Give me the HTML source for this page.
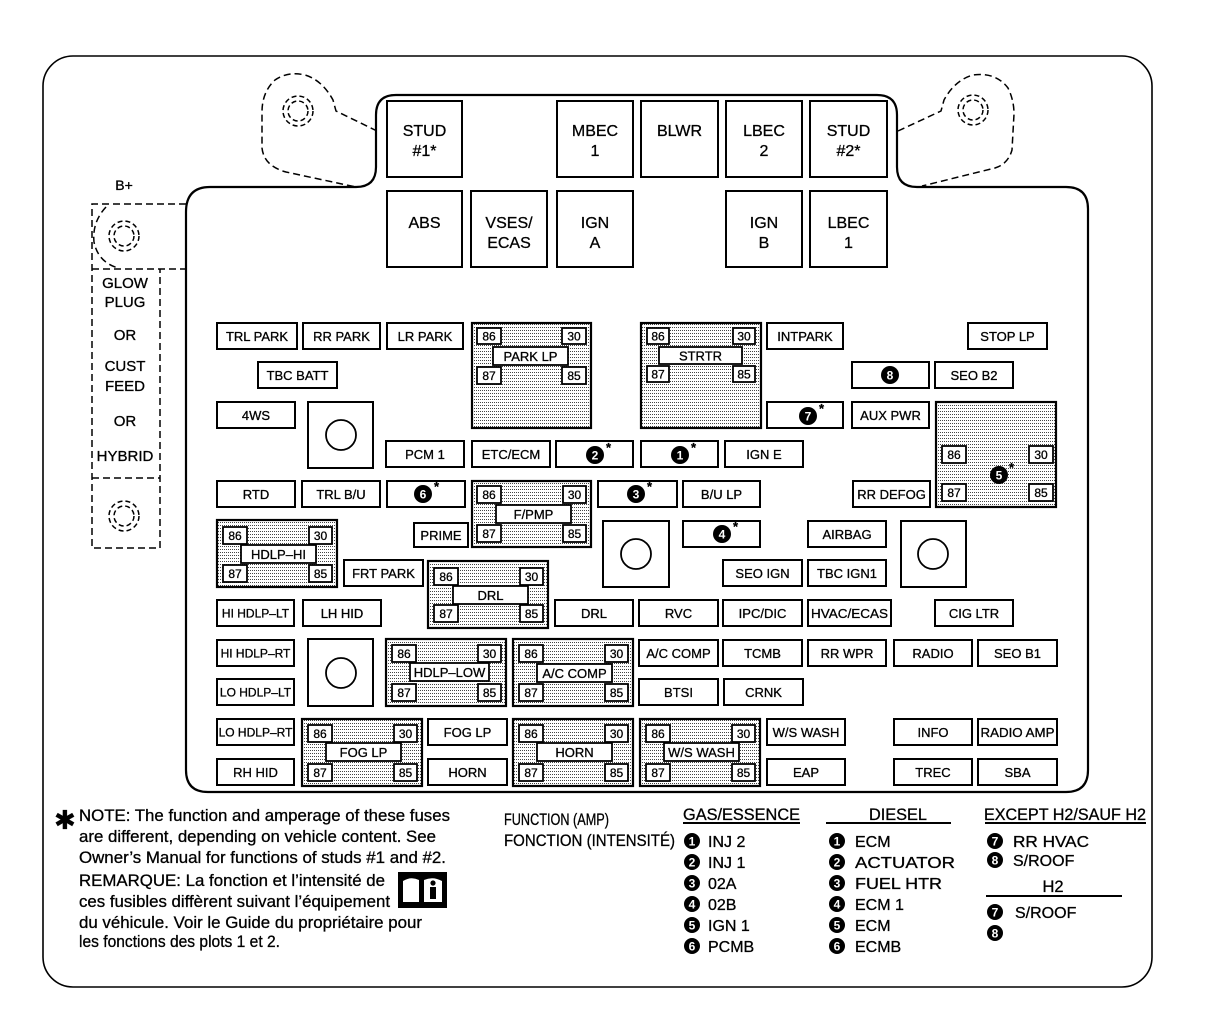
<!DOCTYPE html>
<html><head><meta charset="utf-8"><style>
html,body{margin:0;padding:0;background:#fff}
svg{display:block}
svg text{stroke:#000;stroke-width:0.3}
.f{fill:#fff;stroke:#000;stroke-width:2}
.r{fill:url(#dots);stroke:#000;stroke-width:2.2}
.tb{fill:#fff;stroke:#000;stroke-width:1.8}
.t{font-size:13px;text-anchor:middle}
.ts{font-size:12px;text-anchor:middle}
.tn{font-size:12px;text-anchor:middle}
.big{font-size:16px;text-anchor:middle}
.d{fill:none;stroke:#000;stroke-width:1.5;stroke-dasharray:7 4}
.cn{fill:#000}
svg text.cw{fill:#fff;stroke:none;font-size:12px;font-weight:bold;text-anchor:middle}
.ast{font-size:13px;font-weight:bold}
.lg{font-size:16.5px}
.li{font-size:16px}
</style></head><body>
<svg width="1229" height="1018" viewBox="0 0 1229 1018" font-family="'Liberation Sans', Arial, sans-serif">
<defs>
<pattern id="dots" width="2" height="3" patternUnits="userSpaceOnUse">
<rect width="2" height="3" fill="#fff"/><rect width="1" height="1" fill="#444"/>
</pattern>
</defs>

<!-- outer -->
<rect x="43" y="56" width="1109" height="931" rx="30" fill="#fff" stroke="#000" stroke-width="1.6"/>

<!-- tabs -->
<path class="d" d="M377,131 L336,111 L333,100 Q322,80 305,75 Q288,71 275,80 Q262,92 262,112 L262,148 Q264,166 286,172 L356,187"/>
<circle class="d" cx="298" cy="111" r="15" style="stroke-dasharray:5 3"/>
<circle class="d" cx="298" cy="111" r="10" style="stroke-dasharray:5 3"/>
<path class="d" d="M898,131 L941,111 L944,100 Q955,80 973,75 Q996,72 1008,88 Q1014,100 1014,114 L1012,150 Q1008,164 995,168 L922,186"/>
<circle class="d" cx="973" cy="110" r="15" style="stroke-dasharray:5 3"/>
<circle class="d" cx="973" cy="110" r="10" style="stroke-dasharray:5 3"/>

<!-- B+ area -->
<text x="124" y="190" font-size="14" text-anchor="middle">B+</text>
<path class="d" d="M186,204 L92,204 L92,548 L160,548 L160,269 M92,269 L186,269 M92,478 L160,478"/>
<path class="d" d="M106,207 Q92,222 94,242 Q98,262 118,268"/>
<circle class="d" cx="124" cy="236" r="15" style="stroke-dasharray:5 3"/>
<circle class="d" cx="124" cy="236" r="10" style="stroke-dasharray:5 3"/>
<circle class="d" cx="124" cy="516" r="15" style="stroke-dasharray:5 3"/>
<circle class="d" cx="124" cy="516" r="10" style="stroke-dasharray:5 3"/>
<g font-size="15" text-anchor="middle">
<text x="125" y="288">GLOW</text>
<text x="125" y="307">PLUG</text>
<text x="125" y="340">OR</text>
<text x="125" y="371">CUST</text>
<text x="125" y="391">FEED</text>
<text x="125" y="426">OR</text>
<text x="125" y="461">HYBRID</text>
</g>

<!-- inner -->
<path d="M186,212 Q186,187 210,187 L356,187 Q376,187 376,167 L376,115 Q376,95 396,95 L877,95 Q897,95 897,115 L897,167 Q897,187 917,187 L1066,187 Q1088,187 1088,209 L1088,770 Q1088,792 1066,792 L208,792 Q186,792 186,770 Z" fill="#fff" stroke="#000" stroke-width="2.2"/>

<!-- big fuses -->
<rect class="f" x="387" y="101" width="75" height="76"/><text class="big" x="424.5" y="136">STUD</text><text class="big" x="424.5" y="156">#1*</text>
<rect class="f" x="557" y="101" width="76" height="76"/><text class="big" x="595" y="136">MBEC</text><text class="big" x="595" y="156">1</text>
<rect class="f" x="641" y="101" width="77" height="76"/><text class="big" x="679.5" y="136">BLWR</text>
<rect class="f" x="726" y="101" width="76" height="76"/><text class="big" x="764" y="136">LBEC</text><text class="big" x="764" y="156">2</text>
<rect class="f" x="810" y="101" width="77" height="76"/><text class="big" x="848.5" y="136">STUD</text><text class="big" x="848.5" y="156">#2*</text>

<rect class="f" x="387" y="191" width="75" height="76"/><text class="big" x="424.5" y="228">ABS</text>
<rect class="f" x="471" y="191" width="76" height="76"/><text class="big" x="509" y="228">VSES/</text><text class="big" x="509" y="248">ECAS</text>
<rect class="f" x="557" y="191" width="76" height="76"/><text class="big" x="595" y="228">IGN</text><text class="big" x="595" y="248">A</text>
<rect class="f" x="726" y="191" width="76" height="76"/><text class="big" x="764" y="228">IGN</text><text class="big" x="764" y="248">B</text>
<rect class="f" x="810" y="191" width="77" height="76"/><text class="big" x="848.5" y="228">LBEC</text><text class="big" x="848.5" y="248">1</text>

<!-- big squares -->
<rect class="f" x="308" y="402" width="65" height="66"/><circle cx="341" cy="435" r="15" fill="none" stroke="#000" stroke-width="1.8"/>
<rect class="f" x="603" y="521" width="66" height="66"/><circle cx="636" cy="554" r="15" fill="none" stroke="#000" stroke-width="1.8"/>
<rect class="f" x="901" y="521" width="65" height="66"/><circle cx="933" cy="554" r="15" fill="none" stroke="#000" stroke-width="1.8"/>
<rect class="f" x="308" y="639" width="65" height="67"/><circle cx="341" cy="673" r="15" fill="none" stroke="#000" stroke-width="1.8"/>

<!-- small fuses -->
<g>
<rect class="f" x="217" y="323" width="80" height="26"/><text class="t" x="257" y="341">TRL PARK</text>
<rect class="f" x="303" y="323" width="77" height="26"/><text class="t" x="341.5" y="341">RR PARK</text>
<rect class="f" x="387" y="323" width="76" height="26"/><text class="t" x="425" y="341">LR PARK</text>
<rect class="f" x="767" y="323" width="76" height="26"/><text class="t" x="805" y="341">INTPARK</text>
<rect class="f" x="968" y="323" width="79" height="26"/><text class="t" x="1007.5" y="341">STOP LP</text>

<rect class="f" x="258" y="362" width="79" height="26"/><text class="t" x="297.5" y="380">TBC BATT</text>
<rect class="f" x="852" y="362" width="77" height="26"/>
<rect class="f" x="935" y="362" width="78" height="26"/><text class="t" x="974" y="380">SEO B2</text>

<rect class="f" x="217" y="402" width="78" height="26"/><text class="t" x="256" y="420">4WS</text>
<rect class="f" x="767" y="402" width="76" height="26"/>
<rect class="f" x="852" y="402" width="77" height="26"/><text class="t" x="890.5" y="420">AUX PWR</text>

<rect class="f" x="386" y="441" width="78" height="26"/><text class="t" x="425" y="459">PCM 1</text>
<rect class="f" x="472" y="441" width="78" height="26"/><text class="t" x="511" y="459">ETC/ECM</text>
<rect class="f" x="556" y="441" width="77" height="26"/>
<rect class="f" x="641" y="441" width="77" height="26"/>
<rect class="f" x="725" y="441" width="78" height="26"/><text class="t" x="764" y="459">IGN E</text>

<rect class="f" x="217" y="481" width="78" height="26"/><text class="t" x="256" y="499">RTD</text>
<rect class="f" x="302" y="481" width="78" height="26"/><text class="t" x="341" y="499">TRL B/U</text>
<rect class="f" x="387" y="481" width="78" height="26"/>
<rect class="f" x="598" y="481" width="79" height="26"/>
<rect class="f" x="683" y="481" width="77" height="26"/><text class="t" x="721.5" y="499">B/U LP</text>
<rect class="f" x="853" y="481" width="77" height="26"/><text class="t" x="891.5" y="499">RR DEFOG</text>

<rect class="f" x="414" y="523" width="54" height="24"/><text class="t" x="441" y="540">PRIME</text>
<rect class="f" x="683" y="521" width="77" height="26"/>
<rect class="f" x="808" y="521" width="78" height="26"/><text class="t" x="847" y="539">AIRBAG</text>

<rect class="f" x="344" y="560" width="79" height="26"/><text class="t" x="383.5" y="578">FRT PARK</text>
<rect class="f" x="723" y="560" width="79" height="26"/><text class="t" x="762.5" y="578">SEO IGN</text>
<rect class="f" x="808" y="560" width="78" height="26"/><text class="t" x="847" y="578">TBC IGN1</text>

<rect class="f" x="217" y="600" width="77" height="26"/><text class="ts" x="255.5" y="617.5">HI HDLP–LT</text>
<rect class="f" x="303" y="600" width="78" height="26"/><text class="t" x="342" y="618">LH HID</text>
<rect class="f" x="555" y="600" width="78" height="26"/><text class="t" x="594" y="618">DRL</text>
<rect class="f" x="639" y="600" width="79" height="26"/><text class="t" x="678.5" y="618">RVC</text>
<rect class="f" x="723" y="600" width="79" height="26"/><text class="t" x="762.5" y="618">IPC/DIC</text>
<rect class="f" x="808" y="600" width="83" height="26"/><text class="t" x="849.5" y="618" textLength="77" lengthAdjust="spacingAndGlyphs">HVAC/ECAS</text>
<rect class="f" x="935" y="600" width="78" height="26"/><text class="t" x="974" y="618">CIG LTR</text>

<rect class="f" x="217" y="640" width="77" height="26"/><text class="ts" x="255.5" y="657.5">HI HDLP–RT</text>
<rect class="f" x="639" y="640" width="79" height="26"/><text class="t" x="678.5" y="658">A/C COMP</text>
<rect class="f" x="723" y="640" width="79" height="26"/><text class="t" x="762.5" y="658">TCMB</text>
<rect class="f" x="808" y="640" width="78" height="26"/><text class="t" x="847" y="658">RR WPR</text>
<rect class="f" x="894" y="640" width="78" height="26"/><text class="t" x="933" y="658">RADIO</text>
<rect class="f" x="978" y="640" width="79" height="26"/><text class="t" x="1017.5" y="658">SEO B1</text>

<rect class="f" x="217" y="679" width="77" height="26"/><text class="ts" x="255.5" y="696.5">LO HDLP–LT</text>
<rect class="f" x="639" y="679" width="79" height="26"/><text class="t" x="678.5" y="697">BTSI</text>
<rect class="f" x="724" y="679" width="79" height="26"/><text class="t" x="763.5" y="697">CRNK</text>

<rect class="f" x="217" y="719" width="77" height="26"/><text class="ts" x="255.5" y="736.5">LO HDLP–RT</text>
<rect class="f" x="428" y="719" width="79" height="26"/><text class="t" x="467.5" y="737">FOG LP</text>
<rect class="f" x="767" y="719" width="78" height="26"/><text class="t" x="806" y="737">W/S WASH</text>
<rect class="f" x="894" y="719" width="78" height="26"/><text class="t" x="933" y="737">INFO</text>
<rect class="f" x="978" y="719" width="79" height="26"/><text class="t" x="1017.5" y="737" textLength="74" lengthAdjust="spacingAndGlyphs">RADIO AMP</text>

<rect class="f" x="217" y="759" width="77" height="26"/><text class="t" x="255.5" y="777">RH HID</text>
<rect class="f" x="428" y="759" width="79" height="26"/><text class="t" x="467.5" y="777">HORN</text>
<rect class="f" x="767" y="759" width="78" height="26"/><text class="t" x="806" y="777">EAP</text>
<rect class="f" x="894" y="759" width="78" height="26"/><text class="t" x="933" y="777">TREC</text>
<rect class="f" x="978" y="759" width="79" height="26"/><text class="t" x="1017.5" y="777">SBA</text>
</g>

<!-- circled numbers in fuses -->
<g>
<circle class="cn" cx="890" cy="375" r="9"/><text class="cw" x="890" y="379.5">8</text>
<circle class="cn" cx="808" cy="416" r="9"/><text class="cw" x="808" y="420.5">7</text><text class="ast" x="819" y="413">*</text>
<circle class="cn" cx="595" cy="455" r="9"/><text class="cw" x="595" y="459.5">2</text><text class="ast" x="606" y="452">*</text>
<circle class="cn" cx="680" cy="455" r="9"/><text class="cw" x="680" y="459.5">1</text><text class="ast" x="691" y="452">*</text>
<circle class="cn" cx="423" cy="494" r="9"/><text class="cw" x="423" y="498.5">6</text><text class="ast" x="434" y="491">*</text>
<circle class="cn" cx="636" cy="494" r="9"/><text class="cw" x="636" y="498.5">3</text><text class="ast" x="647" y="491">*</text>
<circle class="cn" cx="722" cy="534" r="9"/><text class="cw" x="722" y="538.5">4</text><text class="ast" x="733" y="531">*</text>
</g>

<!-- relays -->
<g>
<rect class="r" x="472" y="323" width="119" height="105"/>
<rect class="tb" x="477" y="328" width="24" height="16"/><text class="tn" x="489" y="340.5">86</text>
<rect class="tb" x="562" y="328" width="24" height="16"/><text class="tn" x="574" y="340.5">30</text>
<rect class="tb" x="493" y="347" width="75" height="18"/><text class="t" x="530.5" y="361">PARK LP</text>
<rect class="tb" x="477" y="367" width="24" height="17"/><text class="tn" x="489" y="380">87</text>
<rect class="tb" x="562" y="367" width="24" height="17"/><text class="tn" x="574" y="380">85</text>

<rect class="r" x="641" y="323" width="120" height="105"/>
<rect class="tb" x="647" y="328" width="22" height="16"/><text class="tn" x="658" y="340.5">86</text>
<rect class="tb" x="733" y="328" width="22" height="16"/><text class="tn" x="744" y="340.5">30</text>
<rect class="tb" x="659" y="347" width="83" height="17"/><text class="t" x="700.5" y="360.5">STRTR</text>
<rect class="tb" x="647" y="366" width="22" height="16"/><text class="tn" x="658" y="378.5">87</text>
<rect class="tb" x="733" y="366" width="22" height="16"/><text class="tn" x="744" y="378.5">85</text>

<rect class="r" x="936" y="402" width="120" height="105"/>
<rect class="tb" x="942" y="446" width="24" height="17"/><text class="tn" x="954" y="459">86</text>
<rect class="tb" x="1029" y="446" width="24" height="17"/><text class="tn" x="1041" y="459">30</text>
<rect class="tb" x="942" y="484" width="24" height="17"/><text class="tn" x="954" y="497">87</text>
<rect class="tb" x="1029" y="484" width="24" height="17"/><text class="tn" x="1041" y="497">85</text>
<circle class="cn" cx="999" cy="475" r="9"/><text class="cw" x="999" y="479.5">5</text><text class="ast" x="1009" y="472">*</text>

<rect class="r" x="472" y="481" width="119" height="66"/>
<rect class="tb" x="477" y="486" width="24" height="17"/><text class="tn" x="489" y="499">86</text>
<rect class="tb" x="563" y="486" width="23" height="17"/><text class="tn" x="574.5" y="499">30</text>
<rect class="tb" x="496" y="505" width="75" height="18"/><text class="t" x="533.5" y="519">F/PMP</text>
<rect class="tb" x="477" y="525" width="24" height="17"/><text class="tn" x="489" y="538">87</text>
<rect class="tb" x="563" y="525" width="23" height="17"/><text class="tn" x="574.5" y="538">85</text>

<rect class="r" x="217" y="520" width="120" height="67"/>
<rect class="tb" x="223" y="527" width="24" height="17"/><text class="tn" x="235" y="540">86</text>
<rect class="tb" x="309" y="527" width="23" height="17"/><text class="tn" x="320.5" y="540">30</text>
<rect class="tb" x="241" y="545" width="75" height="18"/><text class="t" x="278.5" y="559">HDLP–HI</text>
<rect class="tb" x="223" y="565" width="24" height="17"/><text class="tn" x="235" y="578">87</text>
<rect class="tb" x="309" y="565" width="23" height="17"/><text class="tn" x="320.5" y="578">85</text>

<rect class="r" x="428" y="561" width="120" height="67"/>
<rect class="tb" x="434" y="568" width="24" height="17"/><text class="tn" x="446" y="581">86</text>
<rect class="tb" x="520" y="568" width="23" height="17"/><text class="tn" x="531.5" y="581">30</text>
<rect class="tb" x="453" y="586" width="75" height="18"/><text class="t" x="490.5" y="600">DRL</text>
<rect class="tb" x="434" y="605" width="24" height="17"/><text class="tn" x="446" y="618">87</text>
<rect class="tb" x="520" y="605" width="23" height="17"/><text class="tn" x="531.5" y="618">85</text>

<rect class="r" x="386" y="639" width="120" height="67"/>
<rect class="tb" x="392" y="645" width="24" height="17"/><text class="tn" x="404" y="658">86</text>
<rect class="tb" x="478" y="645" width="23" height="17"/><text class="tn" x="489.5" y="658">30</text>
<rect class="tb" x="410" y="663" width="79" height="18"/><text class="t" x="449.5" y="677">HDLP–LOW</text>
<rect class="tb" x="392" y="684" width="24" height="17"/><text class="tn" x="404" y="697">87</text>
<rect class="tb" x="478" y="684" width="23" height="17"/><text class="tn" x="489.5" y="697">85</text>

<rect class="r" x="513" y="639" width="120" height="67"/>
<rect class="tb" x="519" y="645" width="24" height="17"/><text class="tn" x="531" y="658">86</text>
<rect class="tb" x="605" y="645" width="23" height="17"/><text class="tn" x="616.5" y="658">30</text>
<rect class="tb" x="537" y="664" width="75" height="18"/><text class="t" x="574.5" y="678">A/C COMP</text>
<rect class="tb" x="519" y="684" width="24" height="17"/><text class="tn" x="531" y="697">87</text>
<rect class="tb" x="605" y="684" width="23" height="17"/><text class="tn" x="616.5" y="697">85</text>

<rect class="r" x="302" y="719" width="120" height="67"/>
<rect class="tb" x="308" y="725" width="24" height="17"/><text class="tn" x="320" y="738">86</text>
<rect class="tb" x="394" y="725" width="23" height="17"/><text class="tn" x="405.5" y="738">30</text>
<rect class="tb" x="326" y="743" width="75" height="18"/><text class="t" x="363.5" y="757">FOG LP</text>
<rect class="tb" x="308" y="764" width="24" height="17"/><text class="tn" x="320" y="777">87</text>
<rect class="tb" x="394" y="764" width="23" height="17"/><text class="tn" x="405.5" y="777">85</text>

<rect class="r" x="513" y="719" width="120" height="67"/>
<rect class="tb" x="519" y="725" width="24" height="17"/><text class="tn" x="531" y="738">86</text>
<rect class="tb" x="605" y="725" width="23" height="17"/><text class="tn" x="616.5" y="738">30</text>
<rect class="tb" x="537" y="743" width="75" height="18"/><text class="t" x="574.5" y="757">HORN</text>
<rect class="tb" x="519" y="764" width="24" height="17"/><text class="tn" x="531" y="777">87</text>
<rect class="tb" x="605" y="764" width="23" height="17"/><text class="tn" x="616.5" y="777">85</text>

<rect class="r" x="640" y="719" width="120" height="67"/>
<rect class="tb" x="646" y="725" width="24" height="17"/><text class="tn" x="658" y="738">86</text>
<rect class="tb" x="732" y="725" width="23" height="17"/><text class="tn" x="743.5" y="738">30</text>
<rect class="tb" x="664" y="743" width="75" height="18"/><text class="t" x="701.5" y="757">W/S WASH</text>
<rect class="tb" x="646" y="764" width="24" height="17"/><text class="tn" x="658" y="777">87</text>
<rect class="tb" x="732" y="764" width="23" height="17"/><text class="tn" x="743.5" y="777">85</text>
</g>

<!-- NOTE legend -->
<text x="54" y="829" font-family="'DejaVu Sans', sans-serif" font-size="26" font-weight="bold">✱</text>
<g class="lg">
<text x="79" y="821" textLength="371" lengthAdjust="spacingAndGlyphs">NOTE: The function and amperage of these fuses</text>
<text x="79" y="842" textLength="357" lengthAdjust="spacingAndGlyphs">are different, depending on vehicle content. See</text>
<text x="79" y="863" textLength="367" lengthAdjust="spacingAndGlyphs">Owner’s Manual for functions of studs #1 and #2.</text>
<text x="79" y="886" textLength="306" lengthAdjust="spacingAndGlyphs">REMARQUE: La fonction et l’intensité de</text>
<text x="79" y="907" textLength="311" lengthAdjust="spacingAndGlyphs">ces fusibles diffèrent suivant l’équipement</text>
<text x="79" y="928" textLength="343" lengthAdjust="spacingAndGlyphs">du véhicule. Voir le Guide du propriétaire pour</text>
<text x="79" y="947" textLength="201" lengthAdjust="spacingAndGlyphs">les fonctions des plots 1 et 2.</text>
</g>
<!-- book icon -->
<rect x="398" y="872" width="49" height="36" fill="#000"/>
<path d="M403,881 Q411,876 419,880 L419,902 L403,902 Z" fill="#fff"/>
<path d="M424,880 Q433,876 442,881 L442,902 L424,902 Z" fill="#fff"/>
<rect x="430" y="887" width="6" height="12" fill="#000"/>
<circle cx="433" cy="883" r="2.6" fill="#000"/>

<!-- function legend -->
<g class="lg">
<text x="504" y="825" textLength="105" lengthAdjust="spacingAndGlyphs">FUNCTION (AMP)</text>
<text x="504" y="846" textLength="171" lengthAdjust="spacingAndGlyphs">FONCTION (INTENSITÉ)</text>
<text x="683" y="820" textLength="117" lengthAdjust="spacingAndGlyphs">GAS/ESSENCE</text>
<text x="869" y="820" textLength="58" lengthAdjust="spacingAndGlyphs">DIESEL</text>
<text x="984" y="820" textLength="162" lengthAdjust="spacingAndGlyphs">EXCEPT H2/SAUF H2</text>
<text x="1053" y="892" text-anchor="middle">H2</text>
</g>
<rect x="683" y="822" width="117" height="2" fill="#000"/>
<rect x="826" y="822" width="125" height="2" fill="#000"/>
<rect x="985" y="822" width="161" height="2" fill="#000"/>
<rect x="986" y="895" width="136" height="2" fill="#000"/>

<g>
<circle class="cn" cx="692" cy="841" r="8"/><text class="cw" x="692" y="845.5">1</text>
<circle class="cn" cx="692" cy="862" r="8"/><text class="cw" x="692" y="866.5">2</text>
<circle class="cn" cx="692" cy="883" r="8"/><text class="cw" x="692" y="887.5">3</text>
<circle class="cn" cx="692" cy="904" r="8"/><text class="cw" x="692" y="908.5">4</text>
<circle class="cn" cx="692" cy="925" r="8"/><text class="cw" x="692" y="929.5">5</text>
<circle class="cn" cx="692" cy="946" r="8"/><text class="cw" x="692" y="950.5">6</text>
<circle class="cn" cx="837" cy="841" r="8"/><text class="cw" x="837" y="845.5">1</text>
<circle class="cn" cx="837" cy="862" r="8"/><text class="cw" x="837" y="866.5">2</text>
<circle class="cn" cx="837" cy="883" r="8"/><text class="cw" x="837" y="887.5">3</text>
<circle class="cn" cx="837" cy="904" r="8"/><text class="cw" x="837" y="908.5">4</text>
<circle class="cn" cx="837" cy="925" r="8"/><text class="cw" x="837" y="929.5">5</text>
<circle class="cn" cx="837" cy="946" r="8"/><text class="cw" x="837" y="950.5">6</text>
<circle class="cn" cx="995" cy="841" r="8"/><text class="cw" x="995" y="845.5">7</text>
<circle class="cn" cx="995" cy="860" r="8"/><text class="cw" x="995" y="864.5">8</text>
<circle class="cn" cx="995" cy="912" r="8"/><text class="cw" x="995" y="916.5">7</text>
<circle class="cn" cx="995" cy="933" r="8"/><text class="cw" x="995" y="937.5">8</text>
</g>
<g class="li">
<text x="708" y="847">INJ 2</text>
<text x="708" y="868">INJ 1</text>
<text x="708" y="889">02A</text>
<text x="708" y="910">02B</text>
<text x="708" y="931">IGN 1</text>
<text x="708" y="952">PCMB</text>
<text x="855" y="847">ECM</text>
<text x="855" y="868" textLength="100" lengthAdjust="spacingAndGlyphs">ACTUATOR</text>
<text x="855" y="889" textLength="87" lengthAdjust="spacingAndGlyphs">FUEL HTR</text>
<text x="855" y="910">ECM 1</text>
<text x="855" y="931">ECM</text>
<text x="855" y="952">ECMB</text>
<text x="1013" y="847" textLength="76" lengthAdjust="spacingAndGlyphs">RR HVAC</text>
<text x="1013" y="866">S/ROOF</text>
<text x="1015" y="918">S/ROOF</text>
</g>
</svg>
</body></html>
